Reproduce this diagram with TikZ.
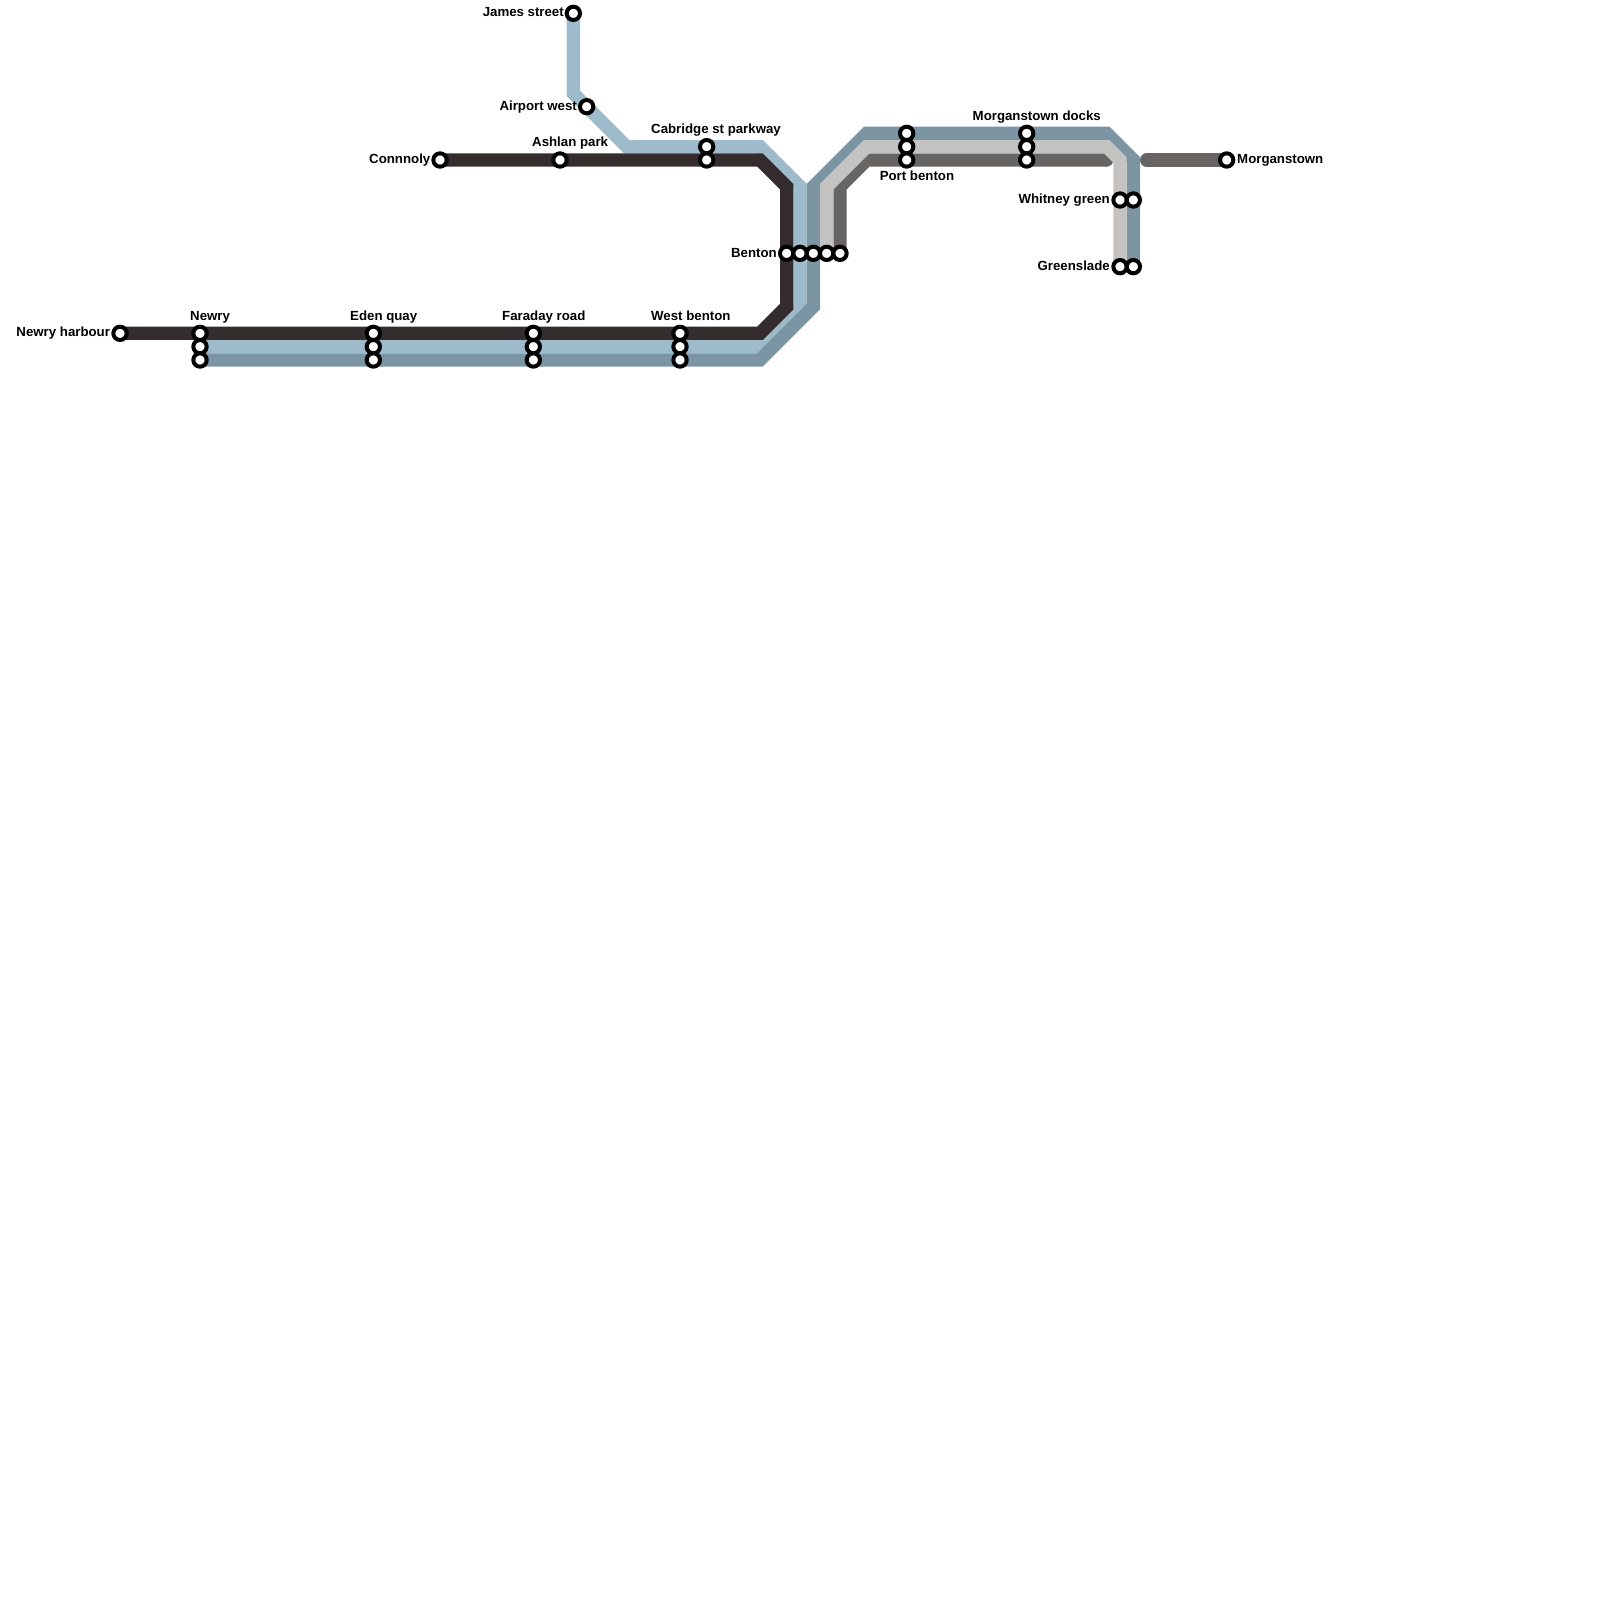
\documentclass[tikz,border=0pt]{standalone}
\usepackage{fontspec}
\setmainfont{Liberation Sans}
\definecolor{cdark}{HTML}{352C2E}
\definecolor{cblue}{HTML}{9DBBCB}
\definecolor{csteel}{HTML}{7B95A3}
\definecolor{clight}{HTML}{C4C3C2}
\definecolor{cgrey}{HTML}{676563}
\tikzset{
  x=1pt,y=-1pt,
  railline/.style={line width=13.33pt,line join=miter,miter limit=10,line cap=butt},
  roundline/.style={railline,line cap=round},
  stn/.style={circle,draw=black,fill=white,line width=4pt,minimum size=13.33pt,inner sep=0pt,outer sep=0pt},
  lbl/.style={font=\fontsize{13.25}{15}\selectfont\bfseries,inner sep=0pt,text=black},
  lw/.style={lbl,anchor=base west},
  le/.style={lbl,anchor=base east},
}
\begin{document}
\begin{tikzpicture}
\useasboundingbox (0,0) rectangle (1600,1600);
% stations
\foreach \n/\x/\y in {
 harbour/120/333.33, newrya/200/333.33, newryb/200/346.67, newryc/200/360,
 edena/373.33/333.33, edenb/373.33/346.67, edenc/373.33/360,
 farada/533.33/333.33, faradb/533.33/346.67, faradc/533.33/360,
 westa/680/333.33, westb/680/346.67, westc/680/360,
 connoly/440/160, ashlan/560/160, james/573.33/13.33, airport/586.67/106.67,
 cabra/706.67/146.67, cabrb/706.67/160,
 bentona/786.67/253.33, bentonb/800/253.33, bentonc/813.33/253.33, bentond/826.67/253.33, bentone/840/253.33,
 porta/906.67/133.33, portb/906.67/146.67, portc/906.67/160,
 docka/1026.67/133.33, dockb/1026.67/146.67, dockc/1026.67/160,
 whita/1120/200, whitb/1133.33/200, grea/1120/266.67, greb/1133.33/266.67,
 morgan/1226.67/160}{\coordinate (\n) at (\x,\y);}
% bends
\coordinate (b1) at (573.33,93.33);
\coordinate (b2) at (626.67,146.67);
\coordinate (b3) at (760,146.67);
\coordinate (b4) at (800,186.67);
\coordinate (b5) at (800,306.67);
\coordinate (b6) at (760,346.67);
\coordinate (d1) at (760,160);
\coordinate (d2) at (786.67,186.67);
\coordinate (d3) at (786.67,306.67);
\coordinate (d4) at (760,333.33);
\coordinate (s1) at (813.33,306.67);
\coordinate (s2) at (760,360);
\coordinate (s3) at (813.33,186.67);
\coordinate (s4) at (866.67,133.33);
\coordinate (s5) at (1106.67,133.33);
\coordinate (s6) at (1133.33,160);
\coordinate (l1) at (826.67,186.67);
\coordinate (l2) at (866.67,146.67);
\coordinate (l3) at (1106.67,146.67);
\coordinate (l4) at (1120,160);
\coordinate (g1) at (840,186.67);
\coordinate (g2) at (866.67,160);
\coordinate (g3) at (1106.67,160);
\coordinate (g4) at (1146.67,160);
% lines
\draw[railline,cblue] (james) -- (b1) -- (b2) -- (b3) -- (b4) -- (b5) -- (b6) -- (newryb);
\draw[railline,csteel] (newryc) -- (s2) -- (s1) -- (s3) -- (s4) -- (s5) -- (s6) -- (greb);
\draw[railline,cgrey] (bentone) -- (g1) -- (g2) -- (g3);
\fill[cgrey] (g3) circle (6.67pt);
\draw[roundline,cgrey] (g4) -- (morgan);
\draw[railline,clight] (bentond) -- (l1) -- (l2) -- (l3) -- (l4) -- (grea);
\draw[railline,cdark] (connoly) -- (d1) -- (d2) -- (d3) -- (d4) -- (harbour);
% station markers
\foreach \n in {harbour,newrya,newryb,newryc,edena,edenb,edenc,farada,faradb,faradc,westa,westb,westc,connoly,ashlan,james,airport,cabra,cabrb,bentona,bentonb,bentonc,bentond,bentone,porta,portb,portc,docka,dockb,dockc,whita,whitb,grea,greb,morgan}
  {\node[stn] (m\n) at (\n) {};}
% labels
\node[le] (t1) at (110.2,336.5) {Newry harbour};
\node[lw] (t2) at (190,320) {Newry};
\node[lw] (t3) at (350,320) {Eden quay};
\node[lw] (t4) at (502,320) {Faraday road};
\node[lw] (t5) at (651,320) {West benton};
\node[le] (t6) at (430.5,163) {Connnoly};
\node[lw] (t7) at (532,146.5) {Ashlan park};
\node[lw] (t8) at (651,133) {Cabridge st parkway};
\node[le] (t9) at (564,17) {James street};
\node[le] (t10) at (577,111) {Airport west};
\node[le] (t11) at (777,257) {Benton};
\node[lw] (t12) at (972.5,120.7) {Morganstown docks};
\node[lw] (t13) at (879.6,180) {Port benton};
\node[le] (t14) at (1110,203) {Whitney green};
\node[le] (t15) at (1110,270) {Greenslade};
\node[lw] (t16) at (1237,163) {Morganstown};
\end{tikzpicture}
\end{document}
